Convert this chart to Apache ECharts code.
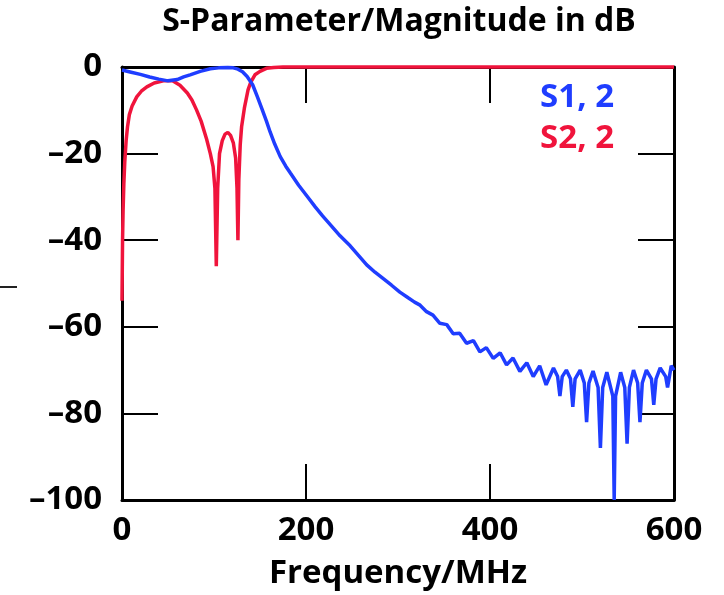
<!DOCTYPE html>
<html>
<head>
<meta charset="utf-8">
<script src="https://cdn.jsdelivr.net/npm/echarts@6/dist/echarts.min.js"></script>
<style>
  html, body { margin: 0; padding: 0; background: #fff; }
  #chart { width: 724px; height: 595px; }
</style>
</head>
<body>
<div id="chart"></div>
<script>
// ---- data ----
const xTicks = [0, 200, 400, 600];
const yTicks = [0, -20, -40, -60, -80, -100];

// S1,2 (blue)
const s12Freq = [0, 10, 20, 30, 40, 50, 60, 67, 74, 85, 96, 105, 115, 121, 126, 131, 136, 142, 147, 152, 157, 161, 166, 172, 178, 183, 192, 201, 210, 218, 228, 237, 248, 257, 266, 275, 284, 293, 302, 311, 318,
  324, 331, 338, 345.5, 353, 360, 367, 374.5, 382, 389, 396, 403.5, 411, 418, 425, 432.5, 440, 447, 454, 461, 469,
  473.5, 476, 478.5, 483, 487.5, 490, 492.5, 498, 502.5, 505, 507.5, 512, 517.5, 520, 522.5, 527, 533.5, 535, 536.5, 542,
  546.5, 549, 551.5, 556, 560.5, 563, 565.5, 570, 575.5, 578, 580.5, 585, 591, 593, 595, 597, 600];
const s12dB = [-0.7, -1.2, -1.7, -2.3, -2.8, -3.2, -2.9, -2.3, -1.8, -1.0, -0.4, -0.2, -0.1, -0.2, -0.5, -1.1, -2.2, -4.1, -6.8, -9.6, -12.5, -15, -17.8, -20.7, -22.9, -24.5, -27.3, -29.8, -32.3, -34.4, -36.8, -39, -41.3, -43.5, -45.7, -47.4, -48.9, -50.4, -52, -53.3, -54.3,
  -55.0, -56.5, -57.3, -59.2, -59.5, -61.6, -61.5, -63.8, -63.2, -65.8, -64.8, -67.3, -66, -68.8, -67.2, -70.3, -68.3, -71.5, -69, -73.4, -69.5,
  -71.5, -76, -71.5, -70, -72, -78.5, -72, -70, -73, -82, -73, -70.2, -74, -88, -74, -70.5, -76, -100, -76, -70.5,
  -74, -87, -74, -70, -73, -82, -73, -70, -72, -78, -72, -69.5, -71.5, -74, -71.5, -69, -70];

// S2,2 (red)
const s22Freq = [0, 0.6, 1.2, 2, 3, 4.5, 6, 8, 11, 16, 21, 27, 35, 45, 55, 63, 71, 76, 81, 86, 92, 96, 99, 101, 102.5, 104, 106, 109, 112, 115, 118, 121, 123.5, 125, 126, 127, 128.5, 130, 133, 137, 140, 144.5, 150, 157, 165, 175, 600];
const s22dB = [-54, -40, -33, -27, -22, -17, -13.8, -11, -9, -6.9, -5.6, -4.6, -3.7, -3.2, -3.2, -4.2, -6, -7.6, -9.9, -12.5, -16.7, -20, -23, -28, -46, -28, -20, -17, -15.5, -15.1, -15.8, -17.5, -21, -28, -40, -26, -18, -13.8, -9.5, -5.3, -3.5, -1.8, -1, -0.3, -0.1, 0, 0];

const seriesNames = ['S1, 2', 'S2, 2'];
const BLUE = '#1f3dff';
const RED = '#f0143c';
const FONT = '"Open Sans", "DejaVu Sans", sans-serif';

function pairs(xs, ys) { return xs.map((x, i) => [x, ys[i]]); }
function yFmt(v) { return v === 0 ? '0' : '\u2013' + Math.abs(v); }

const chart = echarts.init(document.getElementById('chart'), null, { renderer: 'canvas' });

const tickStyle = { show: true, inside: true, length: 36, lineStyle: { color: '#000', width: 2 } };
const lineStyleAxis = { show: true, onZero: false, lineStyle: { color: '#000', width: 3 } };
const lblStyle = { fontFamily: FONT, fontWeight: 'bold', fontSize: 33, color: '#000' };

chart.setOption({
  animation: false,
  backgroundColor: '#fff',
  title: {
    text: 'S-Parameter/Magnitude in dB',
    left: 399, top: 6, textAlign: 'center', padding: 0,
    textStyle: { fontFamily: FONT, fontWeight: 'bold', fontSize: 32, color: '#000' }
  },
  legend: {
    orient: 'vertical', right: 110, top: 81, icon: 'none', itemWidth: 0, itemGap: 8, padding: 0,
    data: [
      { name: seriesNames[0], textStyle: { color: BLUE } },
      { name: seriesNames[1], textStyle: { color: RED } }
    ],
    textStyle: { fontFamily: FONT, fontWeight: 'bold', fontSize: 33 },
    selectedMode: false
  },
  grid: { left: 122, right: 50, top: 67, bottom: 92, containLabel: false },
  xAxis: [
    {
      type: 'value', min: xTicks[0], max: xTicks[xTicks.length - 1], interval: 200,
      position: 'bottom',
      name: 'Frequency/MHz', nameLocation: 'middle', nameGap: 57,
      nameTextStyle: lblStyle,
      axisLine: lineStyleAxis, axisTick: tickStyle,
      axisLabel: Object.assign({ margin: 14 }, lblStyle),
      splitLine: { show: false }
    },
    {
      type: 'value', min: xTicks[0], max: xTicks[xTicks.length - 1], interval: 200,
      position: 'top',
      axisLine: lineStyleAxis, axisTick: tickStyle,
      axisLabel: { show: false }, splitLine: { show: false }
    }
  ],
  yAxis: [
    {
      type: 'value', min: yTicks[yTicks.length - 1], max: yTicks[0], interval: 20,
      position: 'left',
      axisLine: lineStyleAxis, axisTick: tickStyle,
      axisLabel: Object.assign({ margin: 20, formatter: yFmt }, lblStyle),
      splitLine: { show: false }
    },
    {
      type: 'value', min: yTicks[yTicks.length - 1], max: yTicks[0], interval: 20,
      position: 'right',
      axisLine: lineStyleAxis, axisTick: tickStyle,
      axisLabel: { show: false }, splitLine: { show: false }
    }
  ],
  graphic: [
    { type: 'line', shape: { x1: 0, y1: 287, x2: 17, y2: 287 }, style: { stroke: '#222', lineWidth: 2 } }
  ],
  series: [
    {
      name: seriesNames[1], type: 'line', data: pairs(s22Freq, s22dB),
      showSymbol: false, clip: false, z: 5,
      lineStyle: { color: RED, width: 3.5 }, itemStyle: { color: RED }
    },
    {
      name: seriesNames[0], type: 'line', data: pairs(s12Freq, s12dB),
      showSymbol: false, clip: false, z: 6,
      lineStyle: { color: BLUE, width: 3.5 }, itemStyle: { color: BLUE }
    }
  ]
});
</script>
</body>
</html>
